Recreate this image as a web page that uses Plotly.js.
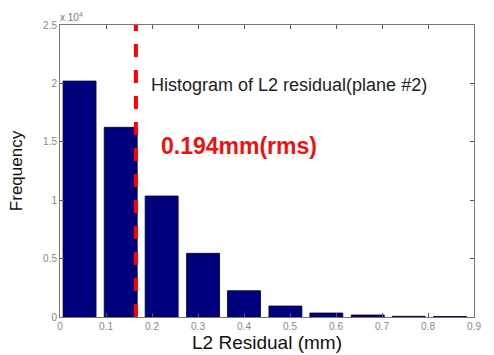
<!DOCTYPE html>
<html><head><meta charset="utf-8">
<script src="https://cdn.plot.ly/plotly-3.0.1.min.js"></script>
<style>body{margin:0;background:#fff}#c{width:494px;height:355px}</style>
</head><body><div id="c"></div>
<script>
const binCenters = [0.0425, 0.132, 0.221, 0.311, 0.400, 0.490, 0.579, 0.669, 0.758, 0.848];
const counts = [20200, 16240, 10360, 5450, 2250, 940, 340, 170, 60, 40];
const rmsLineX = 0.165;
const xTicks = [0, 0.1, 0.2, 0.3, 0.4, 0.5, 0.6, 0.7, 0.8, 0.9];
const yTickVals = [0, 5000, 10000, 15000, 20000, 25000];
const yTickText = ['0', '0.5', '1', '1.5', '2', '2.5'];
const titleText = 'Histogram of L2 residual(plane #2)';
const rmsText = '0.194mm(rms)';

const font = 'Liberation Sans, Arial, sans-serif';
const data = [
  {type: 'bar', x: binCenters, y: counts, width: 0.0717,
   marker: {color: '#00007e', line: {color: '#000033', width: 0.8}}, hoverinfo: 'none'},
  {type: 'scatter', mode: 'lines', x: [rmsLineX, rmsLineX], y: [0, 25400],
   line: {color: '#ff0000', width: 4, dash: '13px,13px'}, cliponaxis: false, hoverinfo: 'none'}
];
const layout = {
  width: 494, height: 355, showlegend: false,
  margin: {l: 60, r: 20, t: 25, b: 38},
  paper_bgcolor: '#fff', plot_bgcolor: '#fff',
  font: {family: font},
  xaxis: {range: [0, 0.9], tickvals: xTicks, ticktext: xTicks.map(String),
    ticks: 'inside', ticklen: 4, tickcolor: '#555', mirror: 'ticks', showline: true,
    linecolor: '#777', linewidth: 1, showgrid: false, zeroline: false,
    tickfont: {size: 10, color: '#888'},
    title: {text: 'L2 Residual (mm)', font: {size: 19, color: '#111'}, standoff: 3}},
  yaxis: {range: [0, 25000], tickvals: yTickVals, ticktext: yTickText,
    ticks: 'inside', ticklen: 4, tickcolor: '#555', mirror: 'ticks', showline: true,
    linecolor: '#777', linewidth: 1, showgrid: false, zeroline: false,
    tickfont: {size: 10, color: '#888'},
    title: {text: 'Frequency', font: {size: 17, color: '#111'}, standoff: 16}},
  annotations: [
    {xref: 'paper', yref: 'paper', x: -0.005, y: 1.0, xanchor: 'left', yanchor: 'bottom',
     text: 'x 10<sup>4</sup>', showarrow: false, font: {size: 10, color: '#777'}},
    {xref: 'paper', yref: 'paper', x: 0.215, y: 0.795, xanchor: 'left', yanchor: 'middle',
     text: titleText, showarrow: false, font: {size: 18, color: '#222'}},
    {xref: 'paper', yref: 'paper', x: 0.24, y: 0.585, xanchor: 'left', yanchor: 'middle',
     text: '<b>' + rmsText + '</b>', showarrow: false, font: {size: 23, color: '#ee1111'}}
  ]
};
Plotly.newPlot('c', data, layout, {displayModeBar: false, staticPlot: true});
</script></body></html>
